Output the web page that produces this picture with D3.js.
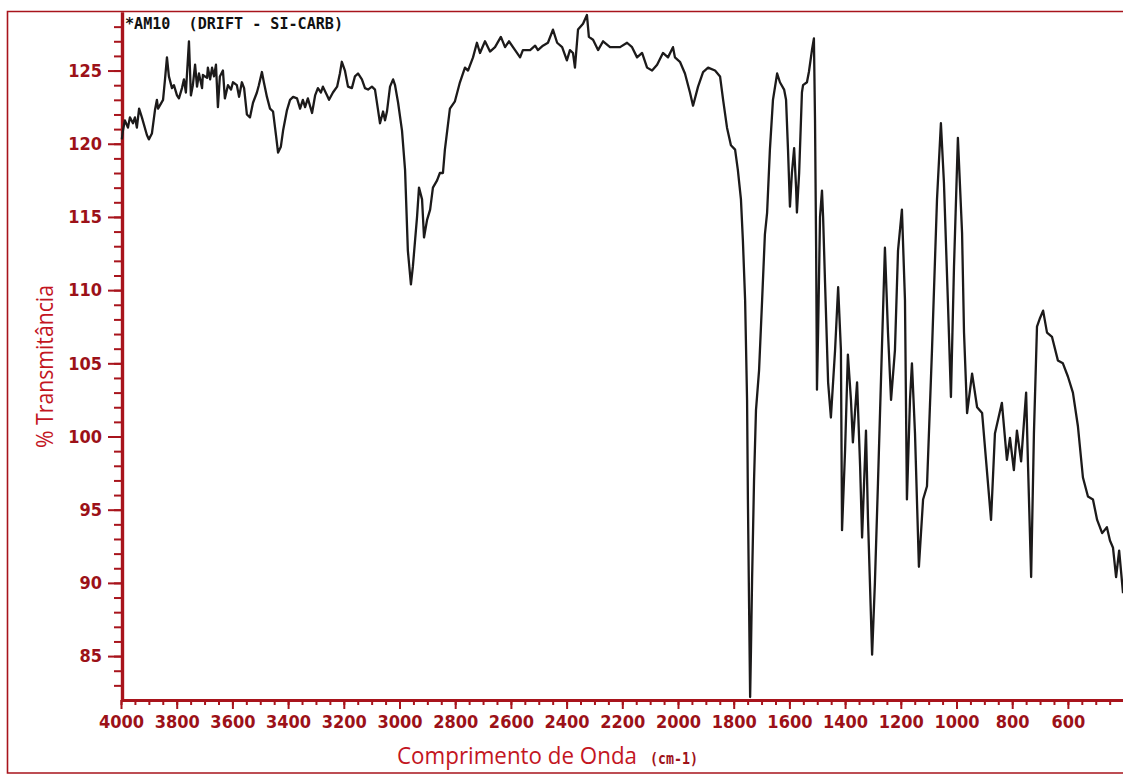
<!DOCTYPE html>
<html>
<head>
<meta charset="utf-8">
<script src="https://cdn.jsdelivr.net/npm/d3@7"></script>
<style>
  body { margin: 0; background: white; }
</style>
</head>
<body>
<div id="vizContainer"></div>
<script>
let w = 1123;
let h = 776;

// spectrum, wavenumber (cm-1) and % transmittance
let wavenumbers = [
  3997, 3993, 3986, 3975, 3968, 3957, 3950, 3943, 3935, 3925, 3907, 3900, 3889, 3878, 3871, 3867,
  3849, 3842, 3835, 3828, 3817, 3810, 3799, 3792, 3781, 3774, 3767, 3756, 3749, 3742, 3734, 3727,
  3720, 3709, 3706, 3691, 3688, 3680, 3673, 3666, 3659, 3652, 3645, 3634, 3627, 3616, 3605, 3598,
  3584, 3576, 3566, 3558, 3548, 3537, 3526, 3512, 3505, 3494, 3487, 3476, 3465, 3454, 3443, 3436,
  3426, 3418, 3404, 3393, 3382, 3368, 3357, 3347, 3339, 3329, 3314, 3303, 3293, 3282, 3275, 3260,
  3253, 3239, 3224, 3214, 3207, 3196, 3185, 3171, 3160, 3149, 3135, 3124, 3113, 3099, 3088, 3077,
  3070, 3059, 3052, 3045, 3034, 3023, 3016, 3005, 2991, 2980, 2970, 2959, 2952, 2937, 2930, 2919,
  2912, 2901, 2890, 2880, 2865, 2855, 2844, 2837, 2819, 2801, 2783, 2765, 2754, 2736, 2722, 2711,
  2693, 2675, 2657, 2636, 2621, 2607, 2585, 2567, 2557, 2531, 2513, 2503, 2485, 2467, 2449, 2434,
  2416, 2399, 2388, 2377, 2370, 2359, 2341, 2327, 2320, 2305, 2287, 2269, 2244, 2226, 2208, 2183,
  2165, 2147, 2129, 2111, 2093, 2075, 2054, 2036, 2018, 2011, 1993, 1975, 1957, 1946, 1928, 1910,
  1892, 1867, 1849, 1838, 1824, 1810, 1795, 1785, 1774, 1767, 1759, 1752, 1749, 1745, 1741, 1738,
  1734, 1727, 1720, 1709, 1698, 1688, 1680, 1670, 1659, 1644, 1634, 1619, 1612, 1605, 1598, 1591,
  1583, 1576, 1573, 1565, 1555, 1551, 1537, 1530, 1519, 1512, 1508, 1504, 1501, 1497, 1490, 1483,
  1479, 1472, 1461, 1451, 1436, 1425, 1415, 1411, 1400, 1390, 1379, 1372, 1357, 1346, 1339, 1325,
  1318, 1303, 1293, 1282, 1268, 1257, 1246, 1235, 1221, 1210, 1196, 1185, 1178, 1167, 1160, 1149,
  1135, 1120, 1106, 1088, 1070, 1056, 1045, 1031, 1020, 1009, 995, 980, 973, 962, 944, 926,
  908, 894, 876, 862, 837, 819, 808, 794, 783, 768, 750, 743, 732, 722, 711, 700,
  689, 675, 657, 636, 618, 600, 582, 564, 546, 528, 510, 495, 477, 460, 449, 438,
  427, 416, 402
];
let transmittance = [
  120.3, 120.9, 121.6, 121.1, 121.8, 121.4, 121.8, 121.1, 122.4, 121.8, 120.6, 120.3, 120.7, 122.3, 123.0, 122.4,
  123.0, 124.4, 125.9, 124.6, 123.8, 124.0, 123.3, 123.1, 123.8, 124.4, 123.5, 127.0, 123.3, 124.0, 125.4, 123.9,
  124.8, 123.8, 124.7, 124.5, 125.2, 124.4, 125.2, 124.6, 125.4, 122.5, 124.6, 125.0, 123.1, 124.0, 123.7, 124.2,
  124.0, 123.2, 124.2, 123.8, 122.0, 121.8, 122.8, 123.5, 124.0, 124.9, 124.2, 123.2, 122.4, 122.2, 120.5, 119.4,
  119.8, 120.9, 122.3, 123.0, 123.2, 123.1, 122.4, 123.0, 122.5, 123.1, 122.1, 123.3, 123.8, 123.5, 123.9, 123.3,
  123.0, 123.5, 123.9, 124.8, 125.6, 125.0, 123.9, 123.8, 124.6, 124.8, 124.4, 123.8, 123.7, 123.9, 123.7, 122.3,
  121.4, 122.2, 121.6, 122.2, 123.9, 124.4, 124.0, 122.8, 120.9, 118.2, 112.7, 110.4, 111.6, 115.0, 117.0, 116.2,
  113.6, 114.8, 115.5, 117.0, 117.5, 118.0, 118.0, 119.6, 122.4, 122.9, 124.2, 125.2, 125.0, 125.9, 126.9, 126.2,
  127.0, 126.3, 126.6, 127.3, 126.6, 127.0, 126.4, 125.9, 126.4, 126.4, 126.7, 126.4, 126.7, 126.9, 127.8, 126.9,
  126.6, 125.7, 126.4, 126.2, 125.2, 127.8, 128.2, 128.8, 127.3, 127.1, 126.4, 127.0, 126.6, 126.6, 126.6, 126.9,
  126.6, 125.9, 126.2, 125.2, 125.0, 125.4, 126.2, 125.9, 126.6, 125.9, 125.6, 124.8, 123.5, 122.6, 123.9, 124.9,
  125.2, 125.0, 124.6, 123.0, 121.1, 119.9, 119.6, 118.2, 116.2, 113.4, 109.3, 102.5, 95.7, 88.8, 82.2, 85.4,
  90.2, 97.0, 101.8, 104.5, 109.3, 113.8, 115.3, 119.6, 123.0, 124.8, 124.2, 123.7, 123.0, 119.6, 115.7, 118.0,
  119.7, 117.0, 115.3, 118.0, 123.5, 124.0, 124.2, 124.9, 126.4, 127.2, 121.6, 112.7, 103.2, 107.1, 115.0, 116.8,
  115.0, 110.5, 103.7, 101.3, 105.9, 110.2, 105.9, 93.6, 99.1, 105.6, 102.5, 99.6, 103.7, 97.9, 93.1, 100.4,
  94.5, 85.1, 90.0, 96.8, 105.9, 112.9, 107.1, 102.5, 105.9, 112.7, 115.5, 109.3, 95.7, 102.5, 105.0, 100.2,
  91.1, 95.7, 96.6, 105.9, 116.2, 121.4, 117.3, 109.3, 102.7, 111.6, 120.4, 113.9, 107.1, 101.6, 104.3, 102.0,
  101.6, 98.4, 94.3, 100.2, 102.3, 98.4, 99.9, 97.7, 100.4, 98.3, 103.0, 97.9, 90.4, 100.2, 107.5, 108.1,
  108.6, 107.1, 106.8, 105.2, 105.0, 104.1, 103.0, 100.7, 97.2, 95.9, 95.7, 94.3, 93.4, 93.8, 92.9, 92.4,
  90.4, 92.2, 89.3
];

let xTickLabels = [4000, 3800, 3600, 3400, 3200, 3000, 2800, 2600, 2400, 2200, 2000, 1800, 1600, 1400, 1200, 1000, 800, 600];
let yTickLabels = [85, 90, 95, 100, 105, 110, 115, 120, 125];

let sampleName = "*AM10  (DRIFT - SI-CARB)";
let xTitle = "Comprimento de Onda";
let xUnit = "(cm-1)";
let yTitle = "% Transmitância";

let axisRed = "#a8141c";
let titleRed = "#c3161f";

let spectrum = wavenumbers.map((d, i) => {
  return { wn: d, t: transmittance[i] };
});

let viz = d3.select("#vizContainer")
  .append("svg")
  .attr("width", w)
  .attr("height", h)
  .style("background-color", "white")
  ;

let xScale = d3.scaleLinear().domain([4000, 400]).range([121, 1123.6]);
let yScale = d3.scaleLinear().domain([82, 129]).range([700, 12]);

// scanned page frame
viz.append("path")
  .attr("d", "M1123,11.5 L7.5,11.5 L7.5,773 L1123,773")
  .attr("fill", "none")
  .attr("stroke", axisRed)
  .attr("stroke-width", 1.6)
  ;

// minor ticks first, then the major axes on top
let yMinor = viz.append("g")
  .attr("transform", "translate(122,0)")
  .call(d3.axisLeft(yScale).tickValues(d3.range(83, 129, 1)).tickSize(8).tickSizeOuter(0).tickFormat(""));
let xMinor = viz.append("g")
  .attr("transform", "translate(0,700)")
  .call(d3.axisBottom(xScale).tickValues(d3.range(4000, 400, -50)).tickSize(5).tickSizeOuter(0).tickFormat(""));

let yAxisGroup = viz.append("g")
  .attr("transform", "translate(122,0)")
  .call(d3.axisLeft(yScale).tickValues(yTickLabels).tickSize(14).tickPadding(6).tickSizeOuter(0).tickFormat(d3.format("d")));
let xAxisGroup = viz.append("g")
  .attr("transform", "translate(0,700)")
  .call(d3.axisBottom(xScale).tickValues(xTickLabels).tickSize(9).tickPadding(6).tickSizeOuter(0).tickFormat(d3.format("d")));

[yMinor, xMinor, yAxisGroup, xAxisGroup].forEach((g) => {
  g.select(".domain").attr("stroke", axisRed).attr("stroke-width", 3.2);
  g.selectAll(".tick line").attr("stroke", axisRed).attr("stroke-width", 2);
  g.selectAll("text")
    .attr("fill", "#9c1118")
    .style("font-family", "'Liberation Sans Narrow', 'DejaVu Sans Condensed', sans-serif")
    .style("font-stretch", "condensed")
    .style("font-weight", "bold")
    .style("font-size", "18px")
    ;
});

let line = d3.line()
  .x((d) => xScale(d.wn))
  .y((d) => yScale(d.t))
  ;

viz.append("path")
  .datum(spectrum)
  .attr("d", line)
  .attr("fill", "none")
  .attr("stroke", "#1c1a1a")
  .attr("stroke-width", 2.3)
  .attr("stroke-linejoin", "round")
  ;

viz.append("text")
  .attr("x", 125)
  .attr("y", 29)
  .attr("textLength", 218)
  .attr("lengthAdjust", "spacingAndGlyphs")
  .style("font-family", "'DejaVu Sans Mono', monospace")
  .style("font-weight", "bold")
  .style("font-size", "15px")
  .attr("fill", "#111")
  .attr("xml:space", "preserve")
  .text(sampleName)
  ;

viz.append("text")
  .attr("x", 397)
  .attr("y", 764)
  .attr("textLength", 240)
  .attr("lengthAdjust", "spacingAndGlyphs")
  .style("font-family", "'Open Sans', sans-serif")
  .style("font-size", "24px")
  .attr("fill", titleRed)
  .text(xTitle)
  ;

viz.append("text")
  .attr("x", 650)
  .attr("y", 764)
  .attr("textLength", 48)
  .attr("lengthAdjust", "spacingAndGlyphs")
  .style("font-family", "'DejaVu Sans Mono', monospace")
  .style("font-weight", "bold")
  .style("font-size", "15px")
  .attr("fill", "#9e1219")
  .text(xUnit)
  ;

viz.append("text")
  .attr("transform", "translate(53,448) rotate(-90)")
  .attr("textLength", 163)
  .attr("lengthAdjust", "spacingAndGlyphs")
  .style("font-family", "'Open Sans', sans-serif")
  .style("font-size", "24px")
  .attr("fill", titleRed)
  .text(yTitle)
  ;
</script>
</body>
</html>
